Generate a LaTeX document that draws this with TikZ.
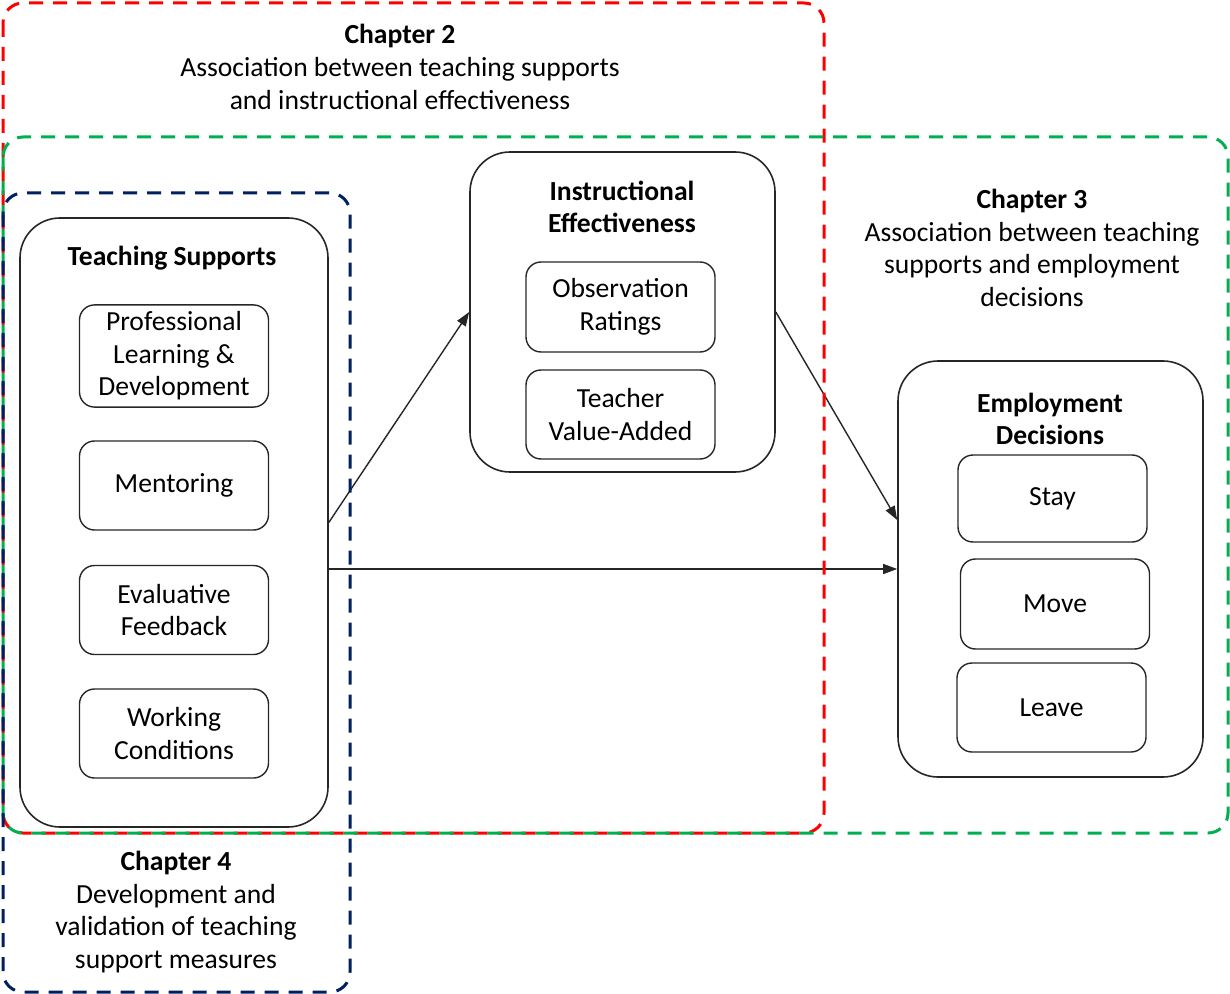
\documentclass[tikz,border=0pt]{standalone}
\usepackage{fontspec}
\setmainfont{Carlito}
\usetikzlibrary{arrows.meta}
\definecolor{chapred}{RGB}{255,0,0}
\definecolor{chapgreen}{RGB}{0,176,80}
\definecolor{chapblue}{RGB}{0,32,96}
\begin{document}
\begin{tikzpicture}[x=0.5pt,y=-0.5pt,
  font=\fontsize{13.8}{16.3}\selectfont,
  outerbox/.style={draw=black!85, line width=0.8pt, rounded corners=20pt, minimum width=#1},
  outerbox/.default=152.5pt,
  itembox/.style={draw=black!85, line width=0.7pt, rounded corners=7.5pt, minimum width=94.5pt, minimum height=44.5pt, align=center},
  chapline/.style={line width=1.5pt, dash pattern=on 7pt off 5pt, rounded corners=10pt},
  link/.style={-{Triangle[length=7pt,width=5pt]}, line width=0.7pt, black!85},
  boxtitle/.style={font=\fontsize{13.8}{16.3}\selectfont\bfseries, align=center},
  chaptext/.style={align=center}]
\useasboundingbox (0,0) rectangle (1230,994);

% outer boxes
\node[outerbox=154pt, minimum height=304.5pt] (ts) at (174,522.5) {};
\node[outerbox, minimum height=160pt] (ie) at (622.5,312) {};
\node[outerbox, minimum height=208pt] (ed) at (1050.5,569) {};

\node[boxtitle] (tstitle) at (172,258) {Teaching Supports};
\node[boxtitle] (ietitle) at (622,207) {Instructional\\Effectiveness};
\node[boxtitle] (edtitle) at (1050,419) {Employment\\Decisions};

% items
\node[itembox, minimum height=49pt] (prof) at (174,356) {Professional\\Learning \&\\Development};
\node[itembox] (ment) at (174,485.5) {Mentoring};
\node[itembox] (eval) at (174,610) {Evaluative\\Feedback};
\node[itembox] (work) at (174,733.5) {Working\\Conditions};

\node[itembox, minimum height=45pt] (obs) at (620.5,307) {Observation\\Ratings};
\node[itembox] (tva) at (620.5,414.5) {Teacher\\Value-Added};

\node[itembox, minimum height=43.5pt] (stay) at (1052.5,498.5) {Stay};
\node[itembox, minimum height=45pt] (move) at (1055,604) {Move};
\node[itembox] (leave) at (1051.5,707.5) {Leave};

% connectors
\draw[link] (ts.east) -- (ie.west);
\draw[link] (ie.east) -- ([yshift=24.5pt]ed.west);
\draw[link] (ts.east |- ed.west) -- (ed.west);

% chapter regions
\draw[chapline, chapred] (3,3) rectangle (824,833);
\draw[chapline, chapgreen] (3,137) rectangle (1228,833);
\draw[chapline, chapblue] (3,193) rectangle (350,992);

\node[chaptext] (ch2) at (400,67) {\textbf{Chapter 2}\\Association between teaching supports\\and instructional effectiveness};
\node[chaptext] (ch3) at (1032,248) {\textbf{Chapter 3}\\Association between teaching\\supports and employment\\decisions};
\node[chaptext] (ch4) at (176,912) {\textbf{Chapter 4}\\Development and\\validation of teaching\\support measures};
\end{tikzpicture}
\end{document}
